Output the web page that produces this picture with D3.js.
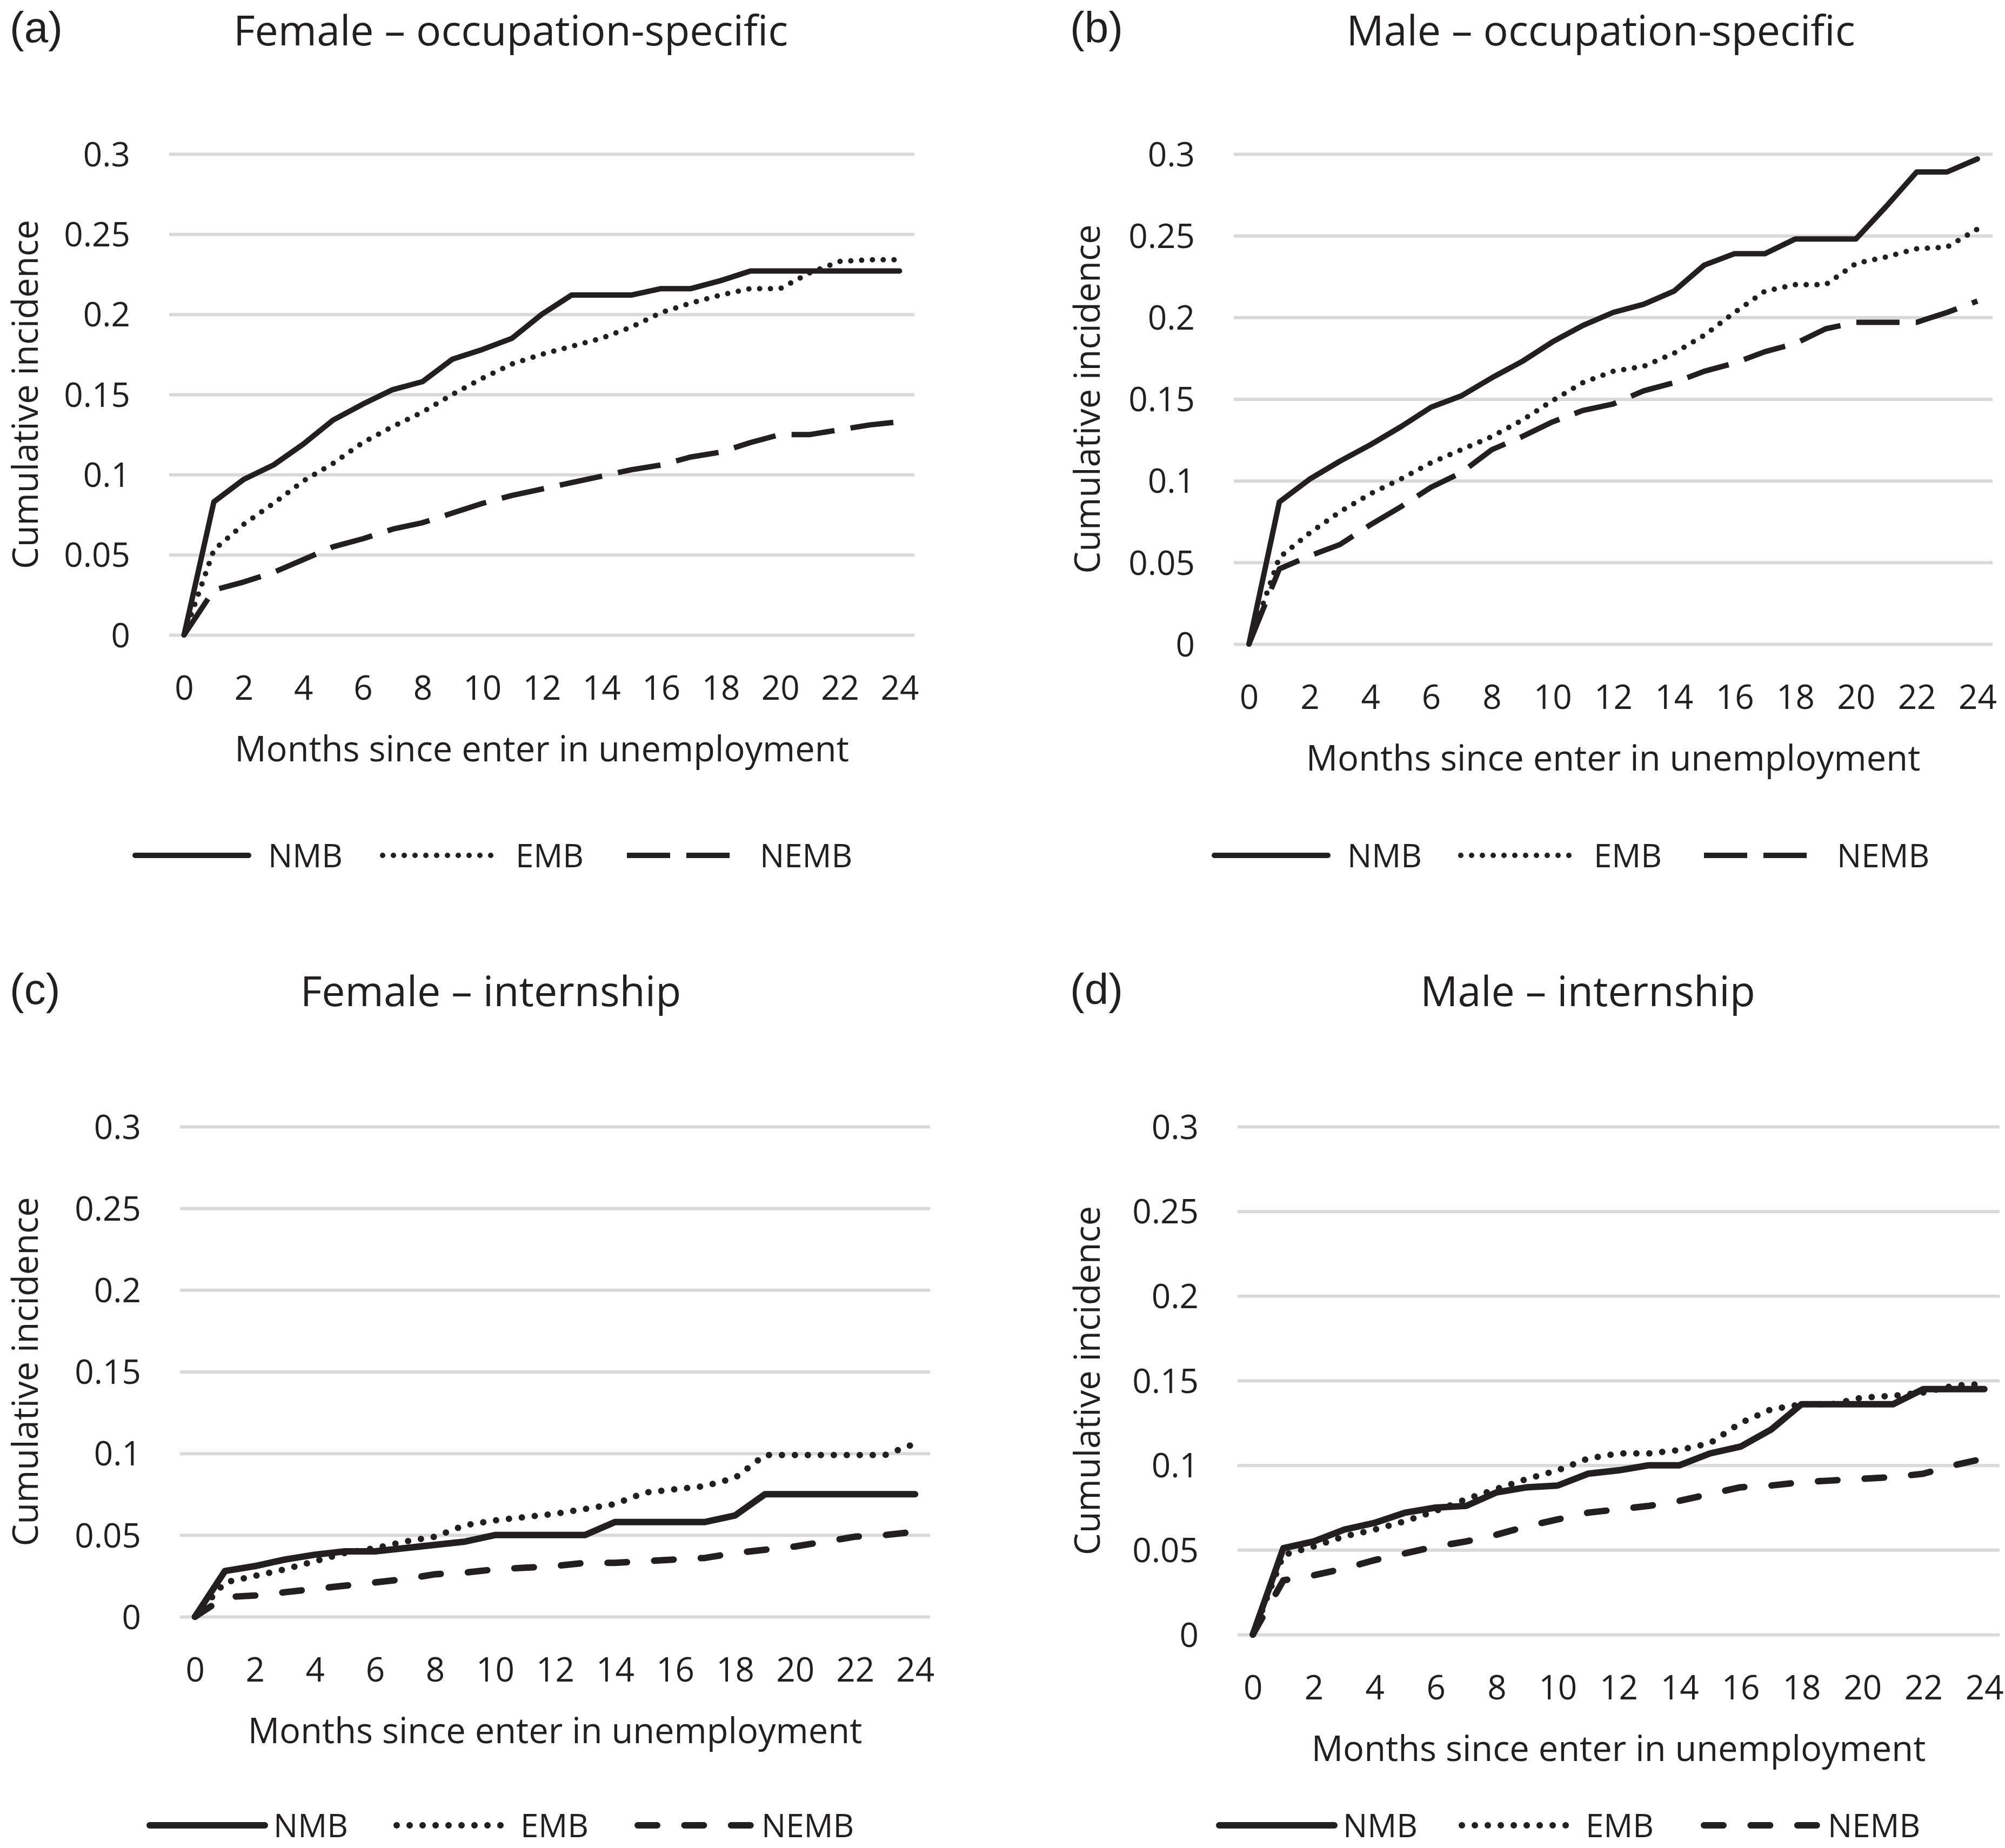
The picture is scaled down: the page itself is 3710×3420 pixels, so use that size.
<!DOCTYPE html>
<html>
<head>
<meta charset="utf-8">
<script src="https://cdn.jsdelivr.net/npm/d3@7"></script>
<style>
  body { margin: 0; background: #fff; }
  svg { display: block; }
</style>
</head>
<body>
<div id="chart"></div>
<script>
//// data
var months = [0, 1, 2, 3, 4, 5, 6, 7, 8, 9, 10, 11, 12, 13, 14, 15, 16, 17, 18, 19, 20, 21, 22, 23, 24];
var xTicks = [0, 2, 4, 6, 8, 10, 12, 14, 16, 18, 20, 22, 24];
var yTicks = [0, 0.05, 0.1, 0.15, 0.2, 0.25, 0.3];
var yTickLabels = ["0", "0.05", "0.1", "0.15", "0.2", "0.25", "0.3"];
var seriesNames = ["NMB", "EMB", "NEMB"];
var panelTitles = ["Female \u2013 occupation-specific", "Male \u2013 occupation-specific", "Female \u2013 internship", "Male \u2013 internship"];
var panelLetters = ["(a)", "(b)", "(c)", "(d)"];
var yTitle = "Cumulative incidence";
var xTitle = "Months since enter in unemployment";

// (a) female, occupation-specific
var femOccNMB  = [0, 0.083, 0.097, 0.106, 0.119, 0.134, 0.144, 0.153, 0.158, 0.172, 0.178, 0.185, 0.200, 0.212, 0.212, 0.212, 0.216, 0.216, 0.221, 0.227, 0.227, 0.227, 0.227, 0.227, 0.227];
var femOccEMB  = [0, 0.053, 0.069, 0.082, 0.096, 0.107, 0.120, 0.130, 0.139, 0.150, 0.160, 0.169, 0.175, 0.180, 0.185, 0.192, 0.201, 0.207, 0.212, 0.216, 0.216, 0.226, 0.233, 0.234, 0.234];
var femOccNEMB = [0, 0.028, 0.033, 0.039, 0.047, 0.055, 0.060, 0.066, 0.070, 0.076, 0.082, 0.087, 0.091, 0.095, 0.099, 0.103, 0.106, 0.111, 0.114, 0.120, 0.125, 0.125, 0.128, 0.131, 0.133];
// (b) male, occupation-specific
var malOccNMB  = [0, 0.087, 0.101, 0.112, 0.122, 0.133, 0.145, 0.152, 0.163, 0.173, 0.185, 0.195, 0.203, 0.208, 0.216, 0.232, 0.239, 0.239, 0.248, 0.248, 0.248, 0.268, 0.289, 0.289, 0.297];
var malOccEMB  = [0, 0.053, 0.068, 0.081, 0.092, 0.101, 0.111, 0.119, 0.127, 0.137, 0.149, 0.160, 0.167, 0.170, 0.178, 0.189, 0.203, 0.216, 0.220, 0.220, 0.233, 0.237, 0.242, 0.243, 0.254];
var malOccNEMB = [0, 0.046, 0.054, 0.061, 0.073, 0.084, 0.096, 0.105, 0.119, 0.127, 0.136, 0.143, 0.147, 0.155, 0.160, 0.167, 0.172, 0.179, 0.184, 0.193, 0.197, 0.197, 0.197, 0.203, 0.210];
// (c) female, internship
var femIntNMB  = [0, 0.028, 0.031, 0.035, 0.038, 0.040, 0.040, 0.042, 0.044, 0.046, 0.050, 0.050, 0.050, 0.050, 0.058, 0.058, 0.058, 0.058, 0.062, 0.075, 0.075, 0.075, 0.075, 0.075, 0.075];
var femIntEMB  = [0, 0.021, 0.025, 0.029, 0.034, 0.039, 0.042, 0.046, 0.049, 0.056, 0.059, 0.061, 0.063, 0.066, 0.069, 0.076, 0.078, 0.080, 0.085, 0.099, 0.099, 0.099, 0.099, 0.099, 0.106];
var femIntNEMB = [0, 0.012, 0.013, 0.015, 0.017, 0.019, 0.021, 0.023, 0.026, 0.027, 0.029, 0.030, 0.031, 0.033, 0.033, 0.034, 0.035, 0.036, 0.039, 0.041, 0.043, 0.046, 0.049, 0.050, 0.052];
// (d) male, internship
var malIntNMB  = [0, 0.051, 0.055, 0.062, 0.066, 0.072, 0.075, 0.076, 0.084, 0.087, 0.088, 0.095, 0.097, 0.100, 0.100, 0.107, 0.111, 0.121, 0.136, 0.136, 0.136, 0.136, 0.145, 0.145, 0.145];
var malIntEMB  = [0, 0.047, 0.052, 0.058, 0.062, 0.067, 0.073, 0.080, 0.086, 0.092, 0.097, 0.104, 0.107, 0.107, 0.109, 0.113, 0.125, 0.133, 0.136, 0.136, 0.140, 0.141, 0.143, 0.147, 0.148];
var malIntNEMB = [0, 0.032, 0.035, 0.039, 0.044, 0.048, 0.052, 0.055, 0.059, 0.064, 0.068, 0.072, 0.074, 0.076, 0.079, 0.083, 0.087, 0.088, 0.090, 0.091, 0.092, 0.093, 0.095, 0.100, 0.104];

var panelSeries = [
  [femOccNMB, femOccEMB, femOccNEMB],
  [malOccNMB, malOccEMB, malOccNEMB],
  [femIntNMB, femIntEMB, femIntNEMB],
  [malIntNMB, malIntEMB, malIntNEMB]
];

//// layout (pixel positions of each panel)
var panels = [
  {gx0: 313,  gx1: 1692, yTop: 285,  yBot: 1175, titleX: 945,  titleY: 84,   labelX: 18,   labelY: 78,   yTitleX: 70,   legY: 1583, legX: [250, 708, 1160],   legLen: 210, legGap: 36, lw: 10, thin: true},
  {gx0: 2283, gx1: 3687, yTop: 285,  yBot: 1192, titleX: 2962, titleY: 84,   labelX: 1980, labelY: 78,   yTitleX: 2035, legY: 1583, legX: [2247, 2703, 3153], legLen: 210, legGap: 36, lw: 10, thin: true},
  {gx0: 333,  gx1: 1721, yTop: 2085, yBot: 2992, titleX: 908,  titleY: 1862, labelX: 18,   labelY: 1858, yTitleX: 70,   legY: 3378, legX: [277, 734, 1180],   legLen: 213, legGap: 16, lw: 12, thin: false},
  {gx0: 2290, gx1: 3700, yTop: 2085, yBot: 3025, titleX: 2938, titleY: 1862, labelX: 1980, labelY: 1858, yTitleX: 2035, legY: 3378, legX: [2256, 2705, 3153], legLen: 213, legGap: 16, lw: 12, thin: false}
];

var ink = "#231f20",
    gridColor = "#d9d9d9",
    font = "'Open Sans', 'Noto Sans', sans-serif";

//// line styles: solid, round dot, dash
function styleLine(sel, p, i) {
  var w = p.lw;
  sel.attr("fill", "none")
    .attr("stroke", ink)
    .attr("stroke-width", w)
    .attr("stroke-linejoin", "round");
  if (i === 0) {
    sel.attr("stroke-linecap", "round");
  } else if (i === 1) {
    sel.attr("stroke-linecap", "round")
      .attr("stroke-dasharray", "0," + (2 * w));
  } else if (p.thin) {
    sel.attr("stroke-linecap", "butt")
      .attr("stroke-dasharray", (8 * w) + "," + (3 * w));
  } else {
    sel.attr("stroke-linecap", "round")
      .attr("stroke-dasharray", (3 * w) + "," + (4.2 * w));
  }
}

//// chart
var svg = d3.select("#chart")
  .append("svg")
    .attr("width", 3710)
    .attr("height", 3420)
    .style("background", "#fff");

panels.forEach(function(p, k) {
  var g = svg.append("g");

  var x = d3.scalePoint()
    .domain(months)
    .range([p.gx0, p.gx1])
    .padding(0.5);

  var y = d3.scaleLinear()
    .domain([0, 0.3])
    .range([p.yBot, p.yTop]);

  // y axis + gridlines
  var yAxis = g.append("g")
    .attr("transform", "translate(" + p.gx0 + ",0)")
    .call(d3.axisLeft(y)
      .tickValues(yTicks)
      .tickFormat(function(d, i) { return yTickLabels[i]; })
      .tickSize(-(p.gx1 - p.gx0))
      .tickPadding(72));
  yAxis.select(".domain").remove();
  yAxis.selectAll(".tick line")
    .attr("stroke", gridColor)
    .attr("stroke-width", 6);
  yAxis.selectAll(".tick text")
    .attr("fill", ink)
    .attr("dy", "0.36em")
    .style("font-family", font)
    .style("font-size", "62px");

  // x axis labels
  var xAxis = g.append("g")
    .attr("transform", "translate(0," + p.yBot + ")")
    .call(d3.axisBottom(x)
      .tickValues(xTicks)
      .tickSize(0));
  xAxis.select(".domain").remove();
  xAxis.selectAll(".tick text")
    .attr("fill", ink)
    .attr("y", 120)
    .attr("dy", null)
    .style("font-family", font)
    .style("font-size", "62px");

  // series lines
  var line = d3.line()
    .x(function(d, i) { return x(months[i]); })
    .y(function(d) { return y(d); });

  panelSeries[k].forEach(function(vals, i) {
    g.append("path")
      .datum(vals)
      .attr("d", line)
      .call(styleLine, p, i);
  });

  // titles
  g.append("text")
    .attr("x", p.titleX)
    .attr("y", p.titleY)
    .attr("text-anchor", "middle")
    .attr("fill", ink)
    .style("font-family", font)
    .style("font-size", "77px")
    .text(panelTitles[k]);

  g.append("text")
    .attr("x", p.labelX)
    .attr("y", p.labelY)
    .attr("fill", ink)
    .style("font-family", "'Liberation Sans', Arial, sans-serif")
    .style("font-size", "80px")
    .text(panelLetters[k]);

  // y title: baseline at yTitleX after rotation
  g.append("text")
    .attr("transform", "translate(" + p.yTitleX + "," + ((p.yTop + p.yBot) / 2) + ") rotate(-90)")
    .attr("text-anchor", "middle")
    .attr("fill", ink)
    .style("font-family", font)
    .style("font-size", "65px")
    .text(yTitle);

  g.append("text")
    .attr("x", (p.gx0 + p.gx1) / 2)
    .attr("y", p.yBot + 234)
    .attr("text-anchor", "middle")
    .attr("fill", ink)
    .style("font-family", font)
    .style("font-size", "65px")
    .text(xTitle);

  // legend
  seriesNames.forEach(function(name, i) {
    var lx = p.legX[i];
    g.append("path")
      .attr("d", d3.line()([[lx, p.legY], [lx + p.legLen, p.legY]]))
      .call(styleLine, p, i);
    g.append("text")
      .attr("x", lx + p.legLen + p.legGap)
      .attr("y", p.legY)
      .attr("dy", "0.36em")
      .attr("fill", ink)
      .style("font-family", font)
      .style("font-size", "60px")
      .text(name);
  });
});
</script>
</body>
</html>
